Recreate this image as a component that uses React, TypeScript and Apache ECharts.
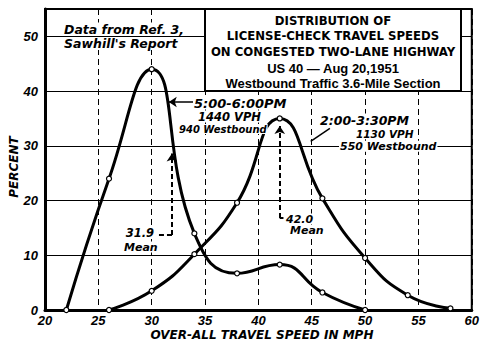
import React, { useEffect, useRef } from "react";
import * as echarts from "echarts";

const speedsPM = [22, 26, 30, 34, 38, 42, 46, 50];
const percentPM = [0, 24, 44, 14, 6.7, 8.3, 3.2, 0];
const speedsAfternoon = [26, 30, 34, 38, 42, 46, 50, 54, 58];
const percentAfternoon = [0, 3.5, 10.2, 19.6, 35, 20.4, 9.5, 2.7, 0.3];
const meanPM = 31.9;
const meanAfternoon = 42.0;
const titleLines = [
  "DISTRIBUTION OF",
  "LICENSE-CHECK TRAVEL SPEEDS",
  "ON CONGESTED TWO-LANE HIGHWAY",
  "US 40 \u2014 Aug 20,1951",
  "Westbound Traffic 3.6-Mile Section",
];

const ITAL = "'Liberation Sans', Arial, sans-serif";
const DJ = "'DejaVu Sans', sans-serif";
const COND = "'DejaVu Sans Condensed', 'Liberation Sans Narrow', 'DejaVu Sans', sans-serif";

function txt(text: string, x: number, y: number, size: number, align = "left", extra: any = {}) {
  return {
    type: "text",
    x,
    y,
    z: 100,
    style: {
      text,
      fill: "#000",
      font: `italic bold ${size}px ${DJ}`,
      align,
      verticalAlign: "middle",
      backgroundColor: "#fff",
      padding: [0, 1],
      ...extra,
    },
  };
}

export default function App() {
  const ref = useRef<HTMLDivElement>(null);
  useEffect(() => {
    if (!ref.current) return;
    const chart = echarts.init(ref.current, null, { renderer: "svg" });
    const dashed = { color: "#000", width: 2, type: [5, 3] as any };
    const solid = { color: "#000", width: 1.5, type: "solid" as any };
    const option: any = {
      animation: false,
      backgroundColor: "#fff",
      grid: { left: 45, right: 7, top: 9, bottom: 32, show: true, borderColor: "#000", borderWidth: 2 },
      xAxis: {
        type: "value",
        min: 20,
        max: 60,
        interval: 5,
        axisLine: { show: true, lineStyle: { color: "#000", width: 3 } },
        axisTick: { show: false },
        axisLabel: { color: "#000", fontSize: 13, fontWeight: "bold", fontStyle: "italic", fontFamily: ITAL, margin: 4 },
        splitLine: { show: true, lineStyle: { color: "#000", width: 1, type: [6, 4] } },
      },
      yAxis: {
        type: "value",
        min: 0,
        max: 55,
        interval: 10,
        axisLine: { show: true, onZero: false, lineStyle: { color: "#000", width: 3 } },
        axisTick: { show: false },
        axisLabel: {
          color: "#000", fontSize: 13, fontWeight: "bold", fontStyle: "italic", fontFamily: ITAL, margin: 7,
          showMaxLabel: false,
          formatter: (v: number) => (v > 50 ? "" : String(v)),
        },
        splitLine: { show: true, lineStyle: { color: "#000", width: 1 } },
      },
      series: [
        {
          type: "line",
          name: "5:00-6:00 PM",
          smooth: 0.5,
          data: speedsPM.map((s, i) => [s, percentPM[i]]),
          symbol: "circle",
          symbolSize: 5,
          itemStyle: { color: "#fff", borderColor: "#000", borderWidth: 1.2 },
          lineStyle: { color: "#000", width: 3 },
          z: 5,
          markLine: {
            silent: true,
            symbolSize: 8,
            label: { show: false },
            lineStyle: dashed,
            data: [
              [
                { coord: [meanPM, 13.7], symbol: "none" },
                { coord: [meanPM, 28.6], symbol: "arrow" },
              ],
              [
                { coord: [meanPM, 13.7], symbol: "none" },
                { coord: [30.5, 13.7], symbol: "none" },
              ],
              [
                { coord: [34, 38], symbol: "none", lineStyle: solid },
                { coord: [31.6, 38], symbol: "arrow" },
              ],
            ],
          },
        },
        {
          type: "line",
          name: "2:00-3:30 PM",
          smooth: 0.5,
          data: speedsAfternoon.map((s, i) => [s, percentAfternoon[i]]),
          symbol: "circle",
          symbolSize: 5,
          itemStyle: { color: "#fff", borderColor: "#000", borderWidth: 1.2 },
          lineStyle: { color: "#000", width: 3 },
          z: 5,
          markLine: {
            silent: true,
            symbolSize: 8,
            label: { show: false },
            lineStyle: dashed,
            data: [
              [
                { coord: [meanAfternoon, 16.8], symbol: "none" },
                { coord: [meanAfternoon, 33.6], symbol: "arrow" },
              ],
              [
                { coord: [meanAfternoon, 16.8], symbol: "none" },
                { coord: [42.35, 16.8], symbol: "none" },
              ],
              [
                { coord: [44.9, 30.8], symbol: "none", lineStyle: solid },
                { coord: [46.7, 33.2], symbol: "none" },
              ],
            ],
          },
        },
      ],
      graphic: [
        txt("Data from Ref. 3,", 63, 29, 12.5),
        txt("Sawhill's Report", 63, 43.5, 12.5),
        {
          type: "rect",
          z: 99,
          shape: { x: 205, y: 9, width: 256, height: 82 },
          style: { fill: "#fff", stroke: "#000", lineWidth: 2 },
        },
        ...titleLines.map((t, i) => ({
          type: "text",
          z: 100,
          x: 333,
          y: [20, 35, 51.5, 68, 83.5][i],
          style: {
            text: t,
            fill: "#000",
            font: i < 3 ? `bold 13px ${COND}` : `bold 13px ${ITAL}`,
            align: "center",
            verticalAlign: "middle",
          },
        })),
        txt("5:00-6:00PM", 193, 103, 13),
        txt("1440 VPH", 197, 116.5, 11.5),
        txt("940 Westbound", 178, 129, 10),
        txt("2:00-3:30PM", 319, 120, 12.5),
        txt("1130 VPH", 355, 133.7, 10.5),
        txt("550 Westbound", 339, 146.3, 11),
        txt("31.9", 155, 233, 11.5, "right"),
        txt("Mean", 123, 247, 11),
        txt("42.0", 285, 219, 11),
        txt("Mean", 289, 230.5, 11),
        txt("PERCENT", 14, 167, 12, "center", { backgroundColor: "transparent" }),
        txt("OVER-ALL TRAVEL SPEED IN MPH", 262, 335, 12, "center", { backgroundColor: "transparent" }),
      ].map((g: any) => (g.style && g.style.text === "PERCENT" ? { ...g, rotation: Math.PI / 2 } : g)),
    };
    chart.setOption(option);
    return () => chart.dispose();
  }, []);
  return <div ref={ref} style={{ position: "fixed", left: 0, top: 0, width: 482, height: 342 }} />;
}
